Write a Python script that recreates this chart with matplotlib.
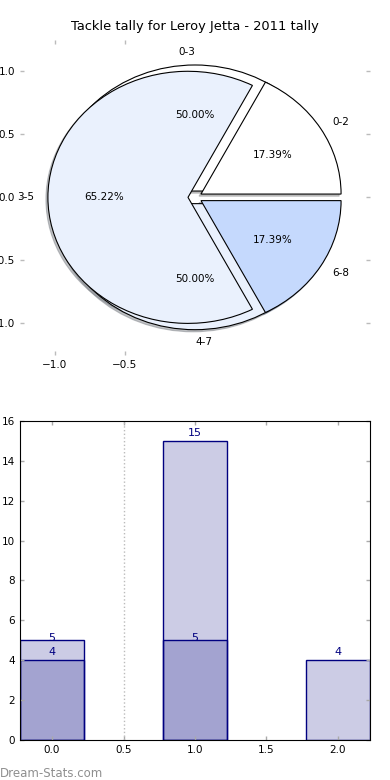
import matplotlib
matplotlib.use('Agg')
import matplotlib.pyplot as plt
import numpy as np

title = 'Tackle tally for Leroy Jetta - 2011 tally'
labels_a = ['0-2', '3-5', '6-8']
tally_a = [4, 15, 4]
labels_b = ['0-3', '4-7']
tally_b = [5, 5]
pie_colors = ['white', '#eaf1fd', '#c5d9fd']

fig = plt.figure(figsize=(3.9, 7.8), dpi=100)

# pie part - two pies drawn over each other, no equal aspect
ax1 = fig.add_axes([0.051, 0.545, 0.898, 0.404])
shade = {'ox': -0.01, 'oy': -0.012, 'shade': 0.45}
ax1.pie(tally_b, labels=labels_b, colors=pie_colors[:2], explode=[0.05] * 2,
        autopct='%1.2f%%', shadow=shade, textprops={'fontsize': 7.5},
        wedgeprops={'linewidth': 0.8, 'edgecolor': 'black'})
ax1.pie(tally_a, labels=labels_a, colors=pie_colors, explode=[0.05] * 3,
        autopct='%1.2f%%', shadow=shade, textprops={'fontsize': 7.5},
        wedgeprops={'linewidth': 0.8, 'edgecolor': 'black'})
ax1.set_aspect('auto')
ax1.set_xlim(-1.25, 1.25)
ax1.set_ylim(-1.25, 1.25)
ax1.set_xticks([-1.0, -0.5])
ax1.set_yticks([1.0, 0.5, 0.0, -0.5, -1.0])
ax1.tick_params(direction='in', color='#bbbbbb', labelsize=7.5, top=True,
                right=True, length=3, width=1)
ax1.set_title(title, fontsize=9.4, pad=7)

# bar part
ax2 = fig.add_axes([0.051, 0.0513, 0.898, 0.409])
x_a = np.arange(len(tally_a))
x_b = np.arange(len(tally_b))
ax2.bar(x_a, tally_a, width=0.45, color=(0, 0, 0.5, 0.2), edgecolor='navy',
        linewidth=1)
ax2.bar(x_b, tally_b, width=0.45, color=(0, 0, 0.5, 0.2), edgecolor='navy',
        linewidth=1)
for xi, h in zip(x_a, tally_a):
    ax2.text(xi, h + 0.15, str(h), ha='center', va='bottom', color='navy',
             fontsize=8)
for xi, h in zip(x_b, tally_b):
    ax2.text(xi, h - 0.15, str(h), ha='center', va='bottom', color='navy',
             fontsize=8)
ax2.axvline(0.5, color='#bbbbbb', linestyle=':', linewidth=1)
ax2.set_xlim(-0.225, 2.225)
ax2.set_ylim(0, 16)
ax2.set_xticks([0.0, 0.5, 1.0, 1.5, 2.0])
ax2.set_yticks(range(0, 17, 2))
ax2.tick_params(direction='in', color='#aaaaaa', labelsize=7.5, top=True,
                right=True, length=3, width=1)

fig.text(0.0, 0.004, 'Dream-Stats.com', color='#8f8f8f', fontsize=8.5)

fig.savefig('out.png', dpi=100)
